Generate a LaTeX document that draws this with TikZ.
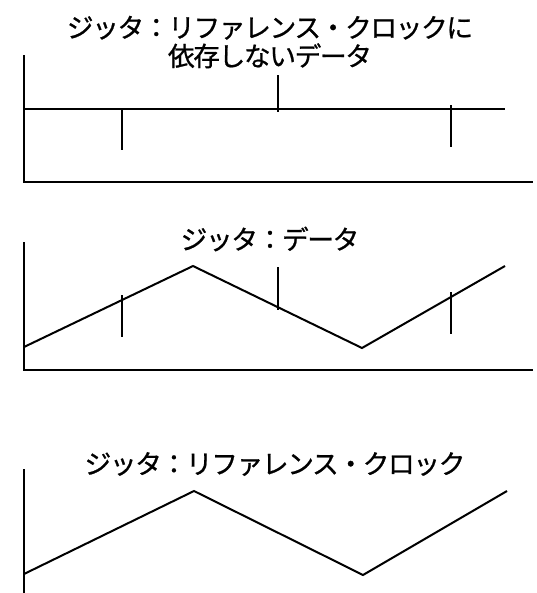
\documentclass[tikz,border=0pt]{standalone}
\usepackage{fontspec}
\newfontfamily\jpfont[LetterSpace=-5,FakeBold=0.8]{Noto Sans CJK JP}
\tikzset{
  axis/.style={line width=1.5pt, line cap=rect},
  wave/.style={line width=1.5pt, line join=miter},
  tickline/.style={line width=1.5pt},
  title/.style={font=\jpfont\fontsize{20}{21.4}\selectfont, align=center, inner sep=0pt},
}
\begin{document}
\begin{tikzpicture}[x=0.75pt,y=-0.75pt]
\useasboundingbox (0,0) rectangle (536,593);
% ---------- panel 1 ----------
\node[title] (t1) at (270,42) {ジッタ：リファレンス・クロックに\\依存しないデータ};
\coordinate (a1top) at (24,56);
\coordinate (a1org) at (24,182);
\coordinate (a1end) at (532,182);
\draw[axis] (a1top) -- (a1org) -- (a1end);
\coordinate (d1s) at (24,109);
\coordinate (d1e) at (505,109);
\draw[wave] (d1s) -- (d1e);
\draw[tickline] (122,109) coordinate (k1a) -- (122,150) coordinate (k1b);
\draw[tickline] (278,75) coordinate (k2a) -- (278,112) coordinate (k2b);
\draw[tickline] (451,105) coordinate (k3a) -- (451,147) coordinate (k3b);
% ---------- panel 2 ----------
\node[title] (t2) at (270,239) {ジッタ：データ};
\coordinate (a2top) at (24,243);
\coordinate (a2org) at (24,370);
\coordinate (a2end) at (532,370);
\draw[axis] (a2top) -- (a2org) -- (a2end);
\coordinate (w2a) at (24,347);
\coordinate (w2b) at (193,266);
\coordinate (w2c) at (362,348);
\coordinate (w2d) at (505,266);
\draw[wave] (w2a) -- (w2b) -- (w2c) -- (w2d);
\draw[tickline] (122,295) coordinate (m1a) -- (122,337) coordinate (m1b);
\draw[tickline] (278,267) coordinate (m2a) -- (278,310) coordinate (m2b);
\draw[tickline] (451,292) coordinate (m3a) -- (451,334) coordinate (m3b);
% ---------- panel 3 ----------
\node[title] (t3) at (275,464) {ジッタ：リファレンス・クロック};
\coordinate (a3top) at (24,470);
\coordinate (a3org) at (24,595);
\draw[axis] (a3top) -- (a3org);
\coordinate (w3a) at (24,574);
\coordinate (w3b) at (194,491);
\coordinate (w3c) at (363,575);
\coordinate (w3d) at (507,491);
\draw[wave] (w3a) -- (w3b) -- (w3c) -- (w3d);
\end{tikzpicture}
\end{document}
